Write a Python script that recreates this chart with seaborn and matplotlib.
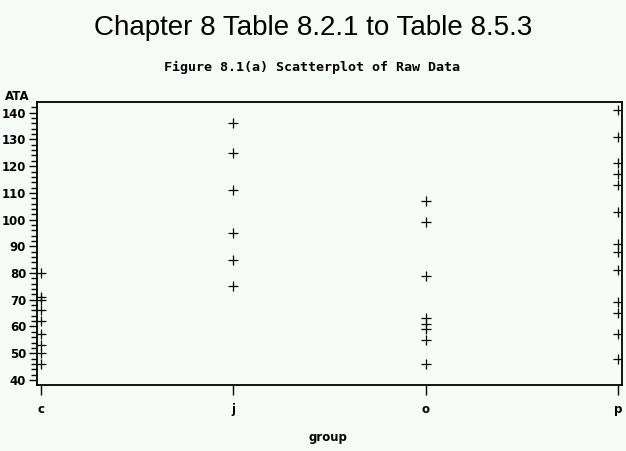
import matplotlib
matplotlib.use("Agg")
import matplotlib.pyplot as plt
from matplotlib import font_manager
from matplotlib.ticker import MultipleLocator
import seaborn as sns
import pandas as pd

groups = ["c", "j", "o", "p"]
c_vals = [80, 71, 70, 66, 62, 57, 53, 50, 46]
j_vals = [136, 125, 111, 95, 85, 75]
o_vals = [107, 99, 79, 63, 61, 59, 55, 46]
p_vals = [141, 131, 121, 117, 113, 103, 91, 88, 81, 69, 65, 57, 48]

title = "Chapter 8 Table 8.2.1 to Table 8.5.3"
subtitle = "Figure 8.1(a) Scatterplot of Raw Data"
y_ticks = [40, 50, 60, 70, 80, 90, 100, 110, 120, 130, 140]

rows = []
for g, vals in zip(groups, [c_vals, j_vals, o_vals, p_vals]):
    for v in vals:
        rows.append({"group": g, "ATA": v})
df = pd.DataFrame(rows)
df["xpos"] = df["group"].map({g: i for i, g in enumerate(groups)})

bg = "#f6fbf8"
sns.set_theme(style="white")
plt.rcParams["font.family"] = ["DejaVu Sans"]
plt.rcParams["text.color"] = "black"
plt.rcParams["xtick.color"] = "black"
plt.rcParams["ytick.color"] = "black"
plt.rcParams["axes.labelcolor"] = "black"

installed = {f.name for f in font_manager.fontManager.ttflist}
if "Liberation Sans Narrow" in installed:
    title_family, title_size = "Liberation Sans Narrow", 24
else:
    title_family, title_size = "Liberation Sans", 20

fig = plt.figure(figsize=(6.26, 4.51), dpi=100, facecolor=bg)
ax = fig.add_axes([37.3 / 626, 66 / 451, (621.7 - 37.3) / 626, (385 - 102.3) / 451])
ax.set_facecolor(bg)

sns.scatterplot(data=df, x="xpos", y="ATA", marker="+", color="black",
                s=48, linewidth=0.9, ax=ax, legend=False)

ax.set_xlim(-0.02, 3.02)
ax.set_ylim(38.1, 143.9)
ax.set_xticks(range(len(groups)))
ax.set_xticklabels(groups, fontsize=8.5, fontweight="bold")
ax.set_yticks(y_ticks)
ax.set_yticklabels([str(t) for t in y_ticks], fontsize=8.5, fontweight="bold")
ax.yaxis.set_minor_locator(MultipleLocator(2))
ax.tick_params(axis="y", which="major", direction="out", length=6, width=1,
               color="black", pad=2, left=True)
ax.tick_params(axis="y", which="minor", direction="out", length=4, width=1,
               color="black", left=True)
ax.tick_params(axis="x", which="major", direction="out", length=7, width=1,
               color="black", pad=6, bottom=True)
for sp in ax.spines.values():
    sp.set_color("black")
    sp.set_linewidth(1.3)
    sp.set_visible(True)

ax.set_xlabel("")
ax.set_ylabel("")
fig.text(328 / 626, 1 - 437 / 451, "group", fontsize=8.5, fontweight="bold",
         ha="center", va="center")
fig.text(5 / 626, 1 - 97 / 451, "ATA", fontsize=8.5, fontweight="bold",
         ha="left", va="center")

fig.text(313 / 626, 1 - 28 / 451, title, fontsize=title_size, ha="center",
         va="center", family=[title_family], color="black")
fig.text(312 / 626, 1 - 67 / 451, subtitle, fontsize=9.6, ha="center", va="center",
         family=["DejaVu Sans Mono"], fontweight="bold", color="black")

fig.savefig("out.png", dpi=100, facecolor=bg)
